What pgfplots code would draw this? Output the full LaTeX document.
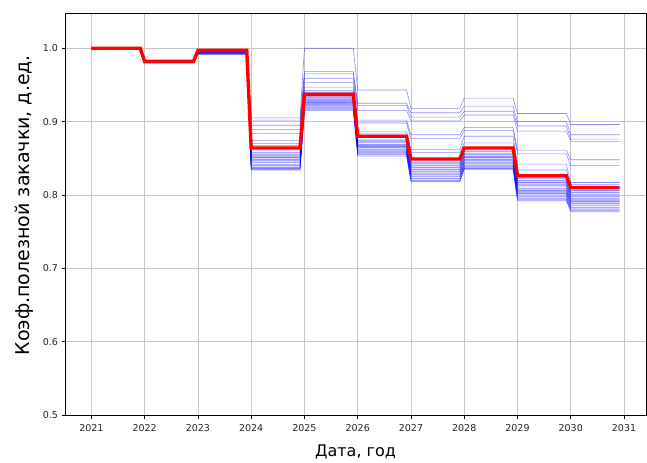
\documentclass[border=0pt]{standalone}
\usepackage{pgfplots}
\pgfplotsset{compat=1.18}
\usepackage{pgfplotstable}
\usepackage{fontspec}
\setmainfont{DejaVu Sans}

\pgfplotstableread{
t r s1 s2 s3 s4 s5 s6 s7 s8 s9 s10 s11 s12 s13 s14 s15 s16 s17 s18 s19 s20 s21 s22 s23 s24 s25 s26 s27 s28
2021 1.000 1.000 1.000 1.000 1.000 1.000 1.000 1.000 1.000 1.000 1.000 1.000 1.000 1.000 1.000 1.000 1.000 1.000 1.000 1.000 1.000 1.000 1.000 1.000 1.000 1.000 1.000 1.000 1.000
2021.917 1.000 1.000 1.000 1.000 1.000 1.000 1.000 1.000 1.000 1.000 1.000 1.000 1.000 1.000 1.000 1.000 1.000 1.000 1.000 1.000 1.000 1.000 1.000 1.000 1.000 1.000 1.000 1.000 1.000
2022 0.982 0.982 0.982 0.982 0.982 0.982 0.982 0.982 0.982 0.982 0.982 0.982 0.982 0.982 0.982 0.982 0.982 0.982 0.982 0.982 0.982 0.982 0.982 0.982 0.982 0.980 0.980 0.980 0.980
2022.917 0.982 0.982 0.982 0.982 0.982 0.982 0.982 0.982 0.982 0.982 0.982 0.982 0.982 0.982 0.982 0.982 0.982 0.982 0.982 0.982 0.982 0.982 0.982 0.982 0.982 0.980 0.980 0.980 0.980
2023 0.997 0.998 0.998 0.998 0.997 0.997 0.997 0.997 0.996 0.996 0.996 0.996 0.995 0.995 0.995 0.995 0.994 0.994 0.994 0.994 0.994 0.993 0.993 0.993 0.993 0.992 0.992 0.992 0.992
2023.917 0.997 0.998 0.998 0.998 0.997 0.997 0.997 0.997 0.996 0.996 0.996 0.996 0.995 0.995 0.995 0.995 0.994 0.994 0.994 0.994 0.994 0.993 0.993 0.993 0.993 0.992 0.992 0.992 0.992
2024 0.864 0.905 0.902 0.895 0.889 0.884 0.874 0.870 0.867 0.860 0.858 0.857 0.855 0.854 0.852 0.851 0.849 0.848 0.847 0.845 0.844 0.842 0.841 0.840 0.838 0.837 0.836 0.835 0.834
2024.917 0.864 0.905 0.902 0.895 0.889 0.884 0.874 0.870 0.867 0.860 0.858 0.857 0.855 0.854 0.852 0.851 0.849 0.848 0.847 0.845 0.844 0.842 0.841 0.840 0.838 0.837 0.836 0.835 0.834
2025 0.937 1.000 0.968 0.965 0.959 0.953 0.947 0.942 0.940 0.934 0.933 0.932 0.931 0.930 0.929 0.928 0.927 0.926 0.925 0.924 0.923 0.922 0.921 0.920 0.919 0.918 0.917 0.916 0.915
2025.917 0.937 1.000 0.968 0.965 0.959 0.953 0.947 0.942 0.940 0.934 0.933 0.932 0.931 0.930 0.929 0.928 0.927 0.926 0.925 0.924 0.923 0.922 0.921 0.920 0.919 0.918 0.917 0.916 0.915
2026 0.880 0.943 0.925 0.922 0.915 0.902 0.898 0.886 0.883 0.875 0.874 0.873 0.872 0.871 0.869 0.868 0.867 0.866 0.865 0.864 0.862 0.861 0.860 0.859 0.858 0.857 0.856 0.855 0.853
2026.917 0.880 0.943 0.925 0.922 0.915 0.902 0.898 0.886 0.883 0.875 0.874 0.873 0.872 0.871 0.869 0.868 0.867 0.866 0.865 0.864 0.862 0.861 0.860 0.859 0.858 0.857 0.856 0.855 0.853
2027 0.849 0.918 0.912 0.906 0.901 0.882 0.877 0.862 0.858 0.846 0.844 0.843 0.841 0.840 0.838 0.837 0.835 0.834 0.832 0.831 0.829 0.828 0.826 0.825 0.823 0.822 0.820 0.819 0.818
2027.917 0.849 0.918 0.912 0.906 0.901 0.882 0.877 0.862 0.858 0.846 0.844 0.843 0.841 0.840 0.838 0.837 0.835 0.834 0.832 0.831 0.829 0.828 0.826 0.825 0.823 0.822 0.820 0.819 0.818
2028 0.864 0.932 0.921 0.914 0.909 0.892 0.888 0.880 0.871 0.860 0.859 0.857 0.856 0.855 0.853 0.852 0.851 0.849 0.848 0.847 0.845 0.844 0.843 0.841 0.840 0.839 0.837 0.836 0.835
2028.917 0.864 0.932 0.921 0.914 0.909 0.892 0.888 0.880 0.871 0.860 0.859 0.857 0.856 0.855 0.853 0.852 0.851 0.849 0.848 0.847 0.845 0.844 0.843 0.841 0.840 0.839 0.837 0.836 0.835
2029 0.826 0.911 0.900 0.894 0.887 0.861 0.856 0.842 0.834 0.822 0.820 0.819 0.817 0.816 0.814 0.813 0.811 0.809 0.808 0.806 0.805 0.803 0.802 0.800 0.798 0.797 0.795 0.794 0.792
2029.917 0.826 0.911 0.900 0.894 0.887 0.861 0.856 0.842 0.834 0.822 0.820 0.819 0.817 0.816 0.814 0.813 0.811 0.809 0.808 0.806 0.805 0.803 0.802 0.800 0.798 0.797 0.795 0.794 0.792
2030 0.810 0.896 0.882 0.876 0.873 0.848 0.840 0.817 0.814 0.806 0.804 0.803 0.801 0.800 0.798 0.797 0.795 0.794 0.792 0.791 0.789 0.788 0.786 0.785 0.783 0.782 0.780 0.779 0.777
2030.917 0.810 0.896 0.882 0.876 0.873 0.848 0.840 0.817 0.814 0.806 0.804 0.803 0.801 0.800 0.798 0.797 0.795 0.794 0.792 0.791 0.789 0.788 0.786 0.785 0.783 0.782 0.780 0.779 0.777
}\data

\begin{document}
\begin{tikzpicture}
\begin{axis}[
  scale only axis, width=581pt, height=402pt,
  xmin=2020.504, xmax=2031.413, ymin=0.5, ymax=1.048,
  xtick={2021,2022,2023,2024,2025,2026,2027,2028,2029,2030,2031},
  ytick={0.5,0.6,0.7,0.8,0.9,1.0},
  yticklabels={0.5,0.6,0.7,0.8,0.9,1.0},
  xticklabel style={/pgf/number format/1000 sep={}, yshift=-2pt},
  /pgf/number format/assume math mode=true,
  ticklabel style={font=\fontsize{9.5}{11}\selectfont, text=black!85},
  grid=major, major grid style={gray!45, line width=0.8pt},
  tick align=outside, tick pos=left, major tick length=3.5pt,
  every tick/.style={black, line width=0.8pt},
  axis line style={line width=0.8pt},
  xlabel={Дата, год}, ylabel={Коэф.полезной закачки, д.ед.},
  xlabel style={font=\fontsize{16}{18}\selectfont, yshift=-7pt},
  ylabel style={font=\fontsize{19}{22}\selectfont, at={(ticklabel cs:0.522)}, yshift=3pt},
]
\pgfplotsinvokeforeach{1,...,28}{
  \addplot[blue, opacity=0.45, line width=0.6pt] table[x=t, y=s#1] {\data};
}
\addplot[red, line width=3.4pt] table[x=t, y=r] {\data};
\end{axis}
\path ([xshift=-65pt,yshift=-47pt]current axis.south west) rectangle ([xshift=1pt,yshift=13pt]current axis.north east);
\end{tikzpicture}
\end{document}
